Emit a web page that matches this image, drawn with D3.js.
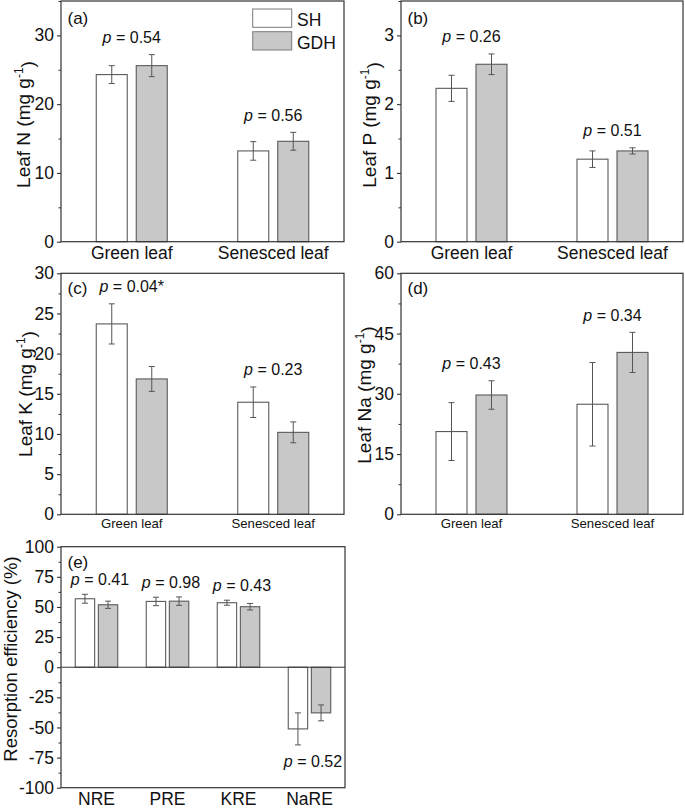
<!DOCTYPE html>
<html><head><meta charset="utf-8">
<script src="https://cdn.jsdelivr.net/npm/d3@7"></script>
<style>
body{margin:0;background:#fff}
text{font-family:Arial,"Liberation Sans",sans-serif;fill:#111}
</style>
</head><body><svg id="chart" width="685" height="808"></svg>
<script>
// ---------- data ----------
const series = ["SH", "GDH"];
const leafCats = ["Green leaf", "Senesced leaf"];
const reCats = ["NRE", "PRE", "KRE", "NaRE"];

// (a) Leaf N
const nSH = [24.3, 13.2],  nSHerr = [1.3, 1.35];
const nGDH = [25.6, 14.6], nGDHerr = [1.6, 1.3];
const nP = ["0.54", "0.56"];
// (b) Leaf P
const pSH = [2.23, 1.2],   pSHerr = [0.19, 0.12];
const pGDH = [2.58, 1.32], pGDHerr = [0.15, 0.045];
const pP = ["0.26", "0.51"];
// (c) Leaf K
const kSH = [23.7, 13.95], kSHerr = [2.5, 1.9];
const kGDH = [16.85, 10.2], kGDHerr = [1.55, 1.3];
const kP = ["0.04*", "0.23"];
// (d) Leaf Na
const naSH = [20.6, 27.4],  naSHerr = [7.2, 10.4];
const naGDH = [29.7, 40.3], naGDHerr = [3.55, 5.0];
const naP = ["0.43", "0.34"];
// (e) Resorption efficiency
const reSH = [56.8, 54.6, 53.5, -51.2],  reSHerr = [3.7, 3.5, 2.1, 13.3];
const reGDH = [51.8, 54.8, 50.2, -37.9], reGDHerr = [3.0, 3.5, 2.7, 6.6];
const reP = ["0.41", "0.98", "0.43", "0.52"];

// tick values
const ticksA = [0, 10, 20, 30], minorA = [5, 15, 25, 35];
const ticksB = [0, 1, 2, 3], minorB = [0.5, 1.5, 2.5, 3.5];
const ticksC = [0, 5, 10, 15, 20, 25, 30], minorC = [2.5, 7.5, 12.5, 17.5, 22.5, 27.5];
const ticksD = [0, 15, 30, 45, 60], minorD = [7.5, 22.5, 37.5, 52.5];
const ticksE = [-100, -75, -50, -25, 0, 25, 50, 75, 100];
const minorE = [-87.5, -62.5, -37.5, -12.5, 12.5, 37.5, 62.5, 87.5];

// ---------- layout ----------
const panels = [
  {tag:"(a)", x0:61, x1:344, y0:1, y1:241.7, dom:[0,35], ticks:ticksA, minor:minorA,
   cats:leafCats, sh:nSH, shE:nSHerr, gdh:nGDH, gdhE:nGDHerr, p:nP, tagDy:23,
   yl:"Leaf N", ylX:30, ylY:124.5, ylFont:19, xFont:17.5, xBase:259, groupW:71, legend:true},
  {tag:"(b)", x0:401, x1:683, y0:1, y1:241.7, dom:[0,3.5], ticks:ticksB, minor:minorB,
   cats:leafCats, sh:pSH, shE:pSHerr, gdh:pGDH, gdhE:pGDHerr, p:pP, tagDy:23,
   yl:"Leaf P", ylX:376, ylY:125, ylFont:19, xFont:17.5, xBase:259, groupW:71},
  {tag:"(c)", x0:61, x1:344, y0:273.3, y1:514.3, dom:[0,30], ticks:ticksC, minor:minorC,
   cats:leafCats, sh:kSH, shE:kSHerr, gdh:kGDH, gdhE:kGDHerr, p:kP, tagDy:20.5,
   yl:"Leaf K", ylX:31.5, ylY:394, ylFont:19, xFont:13.2, xBase:528.3, groupW:71},
  {tag:"(d)", x0:401, x1:683, y0:273.3, y1:514.3, dom:[0,60], ticks:ticksD, minor:minorD,
   cats:leafCats, sh:naSH, shE:naSHerr, gdh:naGDH, gdhE:naGDHerr, p:naP, tagDy:20.5,
   yl:"Leaf Na", ylX:370.5, ylY:395, ylFont:19, xFont:13.2, xBase:528.3, groupW:71},
  {tag:"(e)", x0:61, x1:345, y0:546.7, y1:787.7, dom:[-100,100], ticks:ticksE, minor:minorE,
   cats:reCats, sh:reSH, shE:reSHerr, gdh:reGDH, gdhE:reGDHerr, p:reP, tagDy:21.3, pOff:9,
   yl:"Resorption efficiency (%)", plain:true, ylX:17, ylY:659, ylFont:18.5, xFont:17.5, xBase:805, groupW:42.5, pShift:3.5, zero:true}
];

const fills = {SH:"#ffffff", GDH:"#c8c8c8"};
const barStroke = "#5a5a5a", errColor = "#555", frameColor = "#333";
const svg = d3.select("#chart");

panels.forEach(P => {
  const g = svg.append("g");
  const y = d3.scaleLinear().domain(P.dom).range([P.y1, P.y0]);
  const x = d3.scaleBand().domain(P.cats).range([P.x0, P.x1]).paddingInner(0).paddingOuter(0);
  const inner = d3.scaleBand().domain(series).range([-P.groupW/2, P.groupW/2])
      .paddingInner(P.groupW > 60 ? 0.225 : 0.16).paddingOuter(0);
  const cx = c => x(c) + x.bandwidth()/2;

  // bars
  const rows = [];
  P.cats.forEach((c, i) => {
    rows.push({c, s:"SH", v:P.sh[i], e:P.shE[i]});
    rows.push({c, s:"GDH", v:P.gdh[i], e:P.gdhE[i]});
  });
  g.selectAll("rect.bar").data(rows).join("rect")
    .attr("x", d => cx(d.c) + inner(d.s))
    .attr("width", inner.bandwidth())
    .attr("y", d => y(Math.max(0, d.v)))
    .attr("height", d => Math.abs(y(d.v) - y(0)))
    .attr("fill", d => fills[d.s])
    .attr("stroke", barStroke).attr("stroke-width", 1.1);

  // error bars
  const capW = 3;
  rows.forEach(d => {
    const ex = cx(d.c) + inner(d.s) + inner.bandwidth()/2;
    g.append("line").attr("x1", ex).attr("x2", ex)
      .attr("y1", y(d.v + d.e)).attr("y2", y(d.v - d.e))
      .attr("stroke", errColor).attr("stroke-width", 1);
    [d.v + d.e, d.v - d.e].forEach(t => {
      g.append("line").attr("x1", ex - capW).attr("x2", ex + capW)
        .attr("y1", y(t)).attr("y2", y(t))
        .attr("stroke", errColor).attr("stroke-width", 1);
    });
  });

  // zero line
  if (P.zero) {
    g.append("line").attr("x1", P.x0).attr("x2", P.x1)
      .attr("y1", y(0)).attr("y2", y(0)).attr("stroke", frameColor).attr("stroke-width", 1.1);
  }

  // y axis
  const ax = g.append("g").attr("transform", `translate(${P.x0},0)`)
    .call(d3.axisLeft(y).tickValues(P.ticks).tickSize(4).tickPadding(3).tickFormat(d => String(d)));
  ax.select(".domain").remove();
  ax.selectAll("line").attr("stroke", frameColor).attr("stroke-width", 1.1);
  ax.selectAll("text").style("font-size", "17.5px").attr("fill", "#111");
  const mx = g.append("g").attr("transform", `translate(${P.x0},0)`)
    .call(d3.axisLeft(y).tickValues(P.minor).tickSize(2.5).tickFormat(""));
  mx.select(".domain").remove();
  mx.selectAll("line").attr("stroke", frameColor).attr("stroke-width", 1);

  // frame
  g.append("rect").attr("x", P.x0).attr("y", P.y0)
    .attr("width", P.x1 - P.x0).attr("height", P.y1 - P.y0)
    .attr("fill", "none").attr("stroke", frameColor).attr("stroke-width", 1.2);

  // x category labels
  g.selectAll("text.xl").data(P.cats).join("text")
    .attr("x", d => cx(d)).attr("y", P.xBase)
    .attr("text-anchor", "middle").style("font-size", P.xFont + "px").text(d => d);

  // panel tag
  g.append("text").attr("x", P.x0 + 6.5).attr("y", P.y0 + P.tagDy)
    .style("font-size", "17px").text(P.tag);

  // p labels
  P.cats.forEach((c, i) => {
    const hi = Math.max(P.sh[i] + P.shE[i], P.gdh[i] + P.gdhE[i]);
    const lo = Math.min(P.sh[i] - P.shE[i], P.gdh[i] - P.gdhE[i]);
    const neg = P.sh[i] < 0;
    const ty = neg ? y(lo) + 22 : y(hi) - (P.pOff || 11.5);
    const t = g.append("text").attr("x", cx(c) + (P.pShift || 0)).attr("y", ty)
      .attr("text-anchor", "middle").style("font-size", "16px");
    t.append("tspan").style("font-style", "italic").text("p");
    t.append("tspan").text(" = " + P.p[i]);
  });

  // y label
  const yl = g.append("text")
    .attr("transform", `translate(${P.ylX},${P.ylY}) rotate(-90)`)
    .attr("text-anchor", "middle").style("font-size", P.ylFont + "px");
  if (P.plain) {
    yl.text(P.yl);
  } else {
    yl.append("tspan").text(P.yl + " (mg g");
    yl.append("tspan").attr("dy", "-0.55em").style("font-size", "12px").text("-1");
    yl.append("tspan").attr("dy", "0.55em").text(")");
  }

  // legend
  if (P.legend) {
    series.forEach((s, i) => {
      const ly = 9 + i * 22.7;
      g.append("rect").attr("x", 252.7).attr("y", ly).attr("width", 39).attr("height", 18.3)
        .attr("fill", fills[s]).attr("stroke", "#7a7a7a").attr("stroke-width", 1);
      g.append("text").attr("x", 297).attr("y", ly + 17).style("font-size", "17.5px").text(s);
    });
  }
});
</script>
</body></html>
